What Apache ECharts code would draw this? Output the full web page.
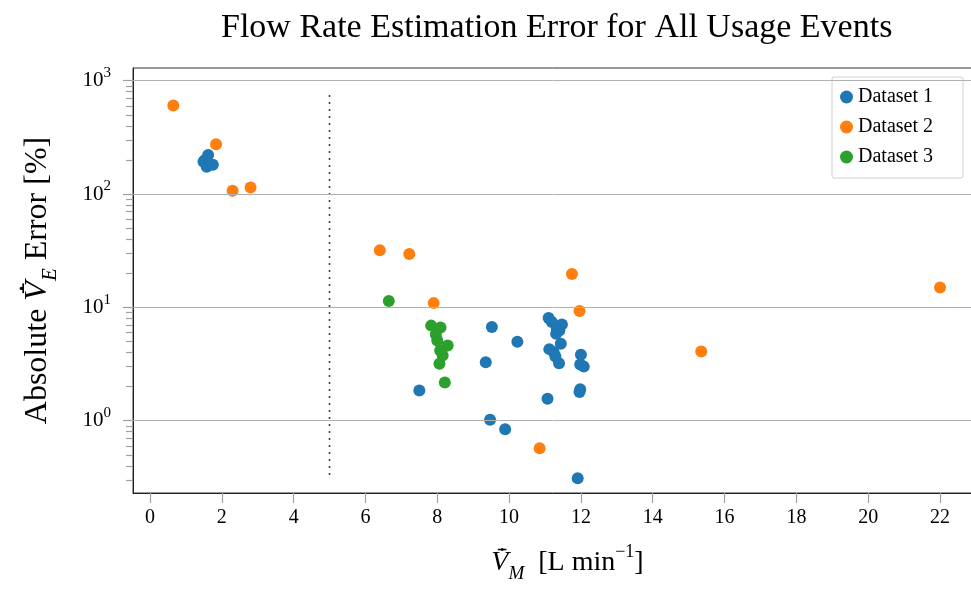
<!DOCTYPE html>
<html>
<head>
<meta charset="utf-8">
<script src="https://cdn.jsdelivr.net/npm/echarts@6/dist/echarts.min.js"></script>
<style>
html, body { margin: 0; padding: 0; background: #fff; }
#chart { width: 971px; height: 590px; }
</style>
</head>
<body>
<div id="chart"></div>
<script>
// values: [flow rate L/min, abs error %]
const dataset1 = [
    [1.62, 221], [1.53, 200], [1.49, 193], [1.58, 174], [1.75, 181],
    [7.50, 1.85], [9.52, 6.7], [9.35, 3.28], [10.23, 4.97], [9.47, 1.02], [9.89, 0.84], [11.91, 0.31],
    [11.10, 8.04], [11.19, 7.41], [11.47, 7.07], [11.33, 6.47], [11.40, 6.26], [11.31, 5.85],
    [11.44, 4.77], [11.12, 4.28], [11.24, 4.03], [11.29, 3.68], [11.39, 3.22],
    [12.0, 3.81], [11.98, 3.13], [12.08, 3.0], [11.98, 1.89], [11.96, 1.79], [11.07, 1.56]
];
const dataset2 = [
    [0.65, 604], [1.84, 275], [2.30, 107], [2.80, 114], [6.40, 31.9], [7.22, 29.6],
    [7.90, 10.9], [10.85, 0.57], [11.75, 19.7], [11.96, 9.27], [15.35, 4.08], [22.0, 15.0]
];
const dataset3 = [
    [6.65, 11.4], [7.83, 6.9], [8.09, 6.65], [7.96, 5.77], [8.0, 5.1],
    [8.29, 4.61], [8.08, 4.16], [8.15, 3.76], [8.06, 3.18], [8.21, 2.17]
];
const threshold = [[5, 0.333], [5, 800]];
const seriesNames = ['Dataset 1', 'Dataset 2', 'Dataset 3'];
const xTicks = [0, 2, 4, 6, 8, 10, 12, 14, 16, 18, 20, 22];
const yDecades = [0, 1, 2, 3];

const colors = ['#1f77b4', '#ff7f0e', '#2ca02c'];
const FONT = '"Liberation Serif", "DejaVu Serif", serif';
const Y_MIN = -0.638, Y_MAX = 3.112;

// y axis works in log10 space
const toLog = pts => pts.map(p => [p[0], Math.log10(p[1])]);
const yMinor = [];
for (let d = -1; d <= 3; d++) {
    for (let m = 2; m <= 9; m++) {
        const v = d + Math.log10(m);
        if (v > Y_MIN && v < Y_MAX) yMinor.push(v);
    }
}

const chart = echarts.init(document.getElementById('chart'), null, { renderer: 'canvas' });

const scatter = (i, data) => ({
    name: seriesNames[i],
    type: 'scatter',
    data: toLog(data),
    symbolSize: 12,
    itemStyle: { color: colors[i], opacity: 1 },
    z: 3 + i
});

const tickStyle = { color: '#a0a0a0', width: 1.2 };

chart.setOption({
    animation: false,
    textStyle: { fontFamily: FONT },
    title: {
        text: 'Flow Rate Estimation Error for All Usage Events',
        left: 216,
        top: 6,
        textStyle: { fontFamily: FONT, fontSize: 34, fontWeight: 'normal', color: '#000' }
    },
    legend: {
        orient: 'vertical',
        right: 8,
        top: 77,
        padding: [10, 30, 11, 8],
        itemGap: 10,
        itemWidth: 13,
        itemHeight: 13,
        icon: 'circle',
        borderColor: '#d0d0d0',
        borderWidth: 1,
        borderRadius: 2,
        backgroundColor: '#fff',
        data: seriesNames,
        textStyle: { fontFamily: FONT, fontSize: 20, color: '#000' }
    },
    grid: {
        left: 133, right: -1, top: 68, bottom: 97,
        outerBoundsMode: 'none',
        containLabel: false,
        show: true, borderColor: '#333', borderWidth: 1
    },
    xAxis: {
        type: 'value',
        min: -0.473,
        max: 22.89,
        name: '{v|V̇̄}{sub|M}{n|  [L min}{sup|−1}{n|]}',
        nameLocation: 'middle',
        nameGap: 50,
        nameTextStyle: {
            padding: [0, 0, 0, 30],
            rich: {
                v: { fontFamily: FONT, fontStyle: 'italic', fontSize: 28, lineHeight: 40, color: '#000' },
                n: { fontFamily: FONT, fontSize: 28, lineHeight: 40, color: '#000' },
                sub: { fontFamily: FONT, fontStyle: 'italic', fontSize: 19, lineHeight: 40, verticalAlign: 'bottom', color: '#000' },
                sup: { fontFamily: FONT, fontSize: 18, lineHeight: 40, verticalAlign: 'top', color: '#000' }
            }
        },
        axisLine: { show: true, onZero: false, lineStyle: { color: '#222', width: 1 } },
        axisTick: { show: true, customValues: xTicks, length: 10, lineStyle: tickStyle },
        axisLabel: { customValues: xTicks, margin: 15, fontFamily: FONT, fontSize: 20, color: '#000' },
        splitLine: { show: false }
    },
    yAxis: [{
        type: 'value',
        min: Y_MIN,
        max: Y_MAX,
        name: 'Absolute {v|V̇̄}{sub|E}{n| Error [%]}',
        nameLocation: 'middle',
        nameGap: 72,
        nameTextStyle: {
            fontFamily: FONT, fontSize: 32, color: '#000',
            rich: {
                v: { fontFamily: FONT, fontStyle: 'italic', fontSize: 32, lineHeight: 46, color: '#000' },
                n: { fontFamily: FONT, fontSize: 32, lineHeight: 46, color: '#000' },
                sub: { fontFamily: FONT, fontStyle: 'italic', fontSize: 21, lineHeight: 46, verticalAlign: 'bottom', color: '#000' }
            }
        },
        axisLine: { show: true, onZero: false, lineStyle: { color: '#222', width: 1 } },
        axisTick: { show: true, customValues: yDecades, length: 10, lineStyle: tickStyle },
        axisLabel: {
            customValues: yDecades,
            margin: 22,
            formatter: v => '10{sup|' + Math.round(v) + '}',
            fontFamily: FONT, fontSize: 21, color: '#000',
            rich: {
                sup: { fontFamily: FONT, fontSize: 15, verticalAlign: 'top', lineHeight: 30, color: '#000' }
            }
        },
        splitLine: { show: false }
    }, {
        type: 'value',
        min: Y_MIN,
        max: Y_MAX,
        position: 'left',
        axisLine: { show: false, onZero: false },
        axisTick: { show: true, customValues: yMinor, length: 7, lineStyle: tickStyle },
        axisLabel: { show: false },
        splitLine: { show: false }
    }],
    series: [
        scatter(0, dataset1),
        scatter(1, dataset2),
        scatter(2, dataset3),
        {
            type: 'line',
            data: toLog(threshold),
            symbol: 'none',
            silent: true,
            lineStyle: { color: '#000', width: 1.6, type: [1.6, 5.4] },
            z: 2,
            markLine: {
                silent: true,
                symbol: 'none',
                label: { show: false },
                lineStyle: { color: '#b0b0b0', width: 1, type: 'solid' },
                data: yDecades.map(d => ({ yAxis: d }))
            }
        }
    ]
});
</script>
</body>
</html>
